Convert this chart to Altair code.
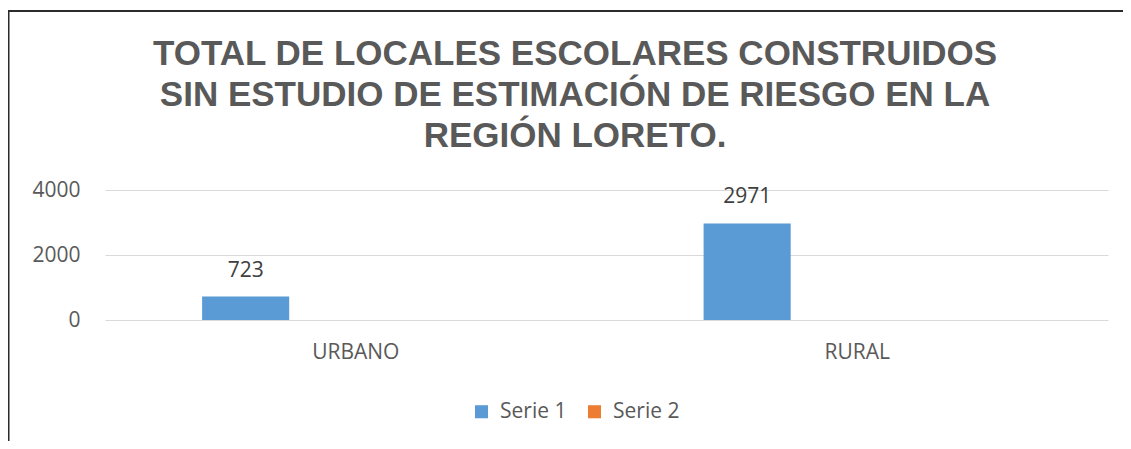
import altair as alt
import pandas as pd

categories = ["URBANO", "RURAL"]
series_names = ["Serie 1", "Serie 2"]
serie1 = [723, 2971]
serie2 = [None, None]
y_ticks = [0, 2000, 4000]
title_lines = [
    "TOTAL DE LOCALES ESCOLARES CONSTRUIDOS",
    "SIN ESTUDIO DE ESTIMACIÓN DE RIESGO EN LA",
    "REGIÓN LORETO.",
]
colors = ["#5B9BD5", "#ED7D31"]

rows = []
for i, c in enumerate(categories):
    rows.append({"cat": c, "serie": "Serie 1", "val": serie1[i]})
    rows.append({"cat": c, "serie": "Serie 2", "val": serie2[i]})
df = pd.DataFrame(rows)

FONT = "Open Sans"
GRAY = "#595959"

x_enc = alt.X("cat:N", sort=categories,
              scale=alt.Scale(paddingInner=0, paddingOuter=0),
              axis=alt.Axis(title=None, labelAngle=0, ticks=False, tickSize=0, domain=False,
                            labelPadding=21, labelFont=FONT, labelFontSize=21,
                            labelColor=GRAY, grid=False))
xoff_enc = alt.XOffset("serie:N", sort=series_names,
                       scale=alt.Scale(paddingInner=0.6045, paddingOuter=0.441))
y_enc = alt.Y("val:Q", scale=alt.Scale(domain=[0, 4000], nice=False),
              axis=alt.Axis(title=None, values=y_ticks, format="d", ticks=False, domain=False,
                            labelPadding=25, labelFont=FONT, labelFontSize=21,
                            labelColor=GRAY, grid=True, gridColor="#D9D9D9", gridWidth=1))

base = alt.Chart(df)

bars = base.mark_bar().encode(
    x=x_enc,
    xOffset=xoff_enc,
    y=y_enc,
    color=alt.Color("serie:N", sort=series_names,
                    scale=alt.Scale(domain=series_names, range=colors),
                    legend=alt.Legend(title=None, orient="none", direction="horizontal",
                                      legendX=366, legendY=211, padding=0,
                                      symbolType="square", symbolSize=170,
                                      symbolStrokeWidth=0, labelOffset=8,
                                      columnPadding=17, labelFont=FONT,
                                      labelFontSize=21, labelColor=GRAY)),
)

labels = base.transform_filter(alt.datum.serie == "Serie 1").mark_text(
    baseline="alphabetic", dy=-20, font=FONT, fontSize=21, color="#404040"
).encode(
    x=alt.X("cat:N", sort=categories),
    xOffset=alt.XOffset("serie:N", sort=series_names),
    y="val:Q",
    text="val:Q",
)

one = alt.Data(values=[{"k": 1}])

title = alt.Chart(one).mark_text(
    align="center", baseline="top", lineHeight=41, font="Liberation Sans",
    fontSize=35, fontWeight="bold", color=GRAY
).encode(x=alt.value(470), y=alt.value(-153), text=alt.value(title_lines))

frame_left = alt.Chart(one).mark_rule(color="#2b2b2b", strokeWidth=2).encode(
    x=alt.value(-96.5), y=alt.value(-180), y2=alt.value(251))
frame_top = alt.Chart(one).mark_rule(color="#2b2b2b", strokeWidth=2).encode(
    x=alt.value(-97), x2=alt.value(1018), y=alt.value(-179))

chart = alt.layer(bars, labels, title, frame_left, frame_top).properties(
    width=1003, height=130,
    padding={"left": 97, "top": 182, "right": 15, "bottom": 121},
    autosize=alt.AutoSizeParams(type="none"),
).configure(background="white").configure_view(stroke=None, strokeWidth=0)

chart.save("out.html", embed_options={"renderer": "svg", "actions": False})
